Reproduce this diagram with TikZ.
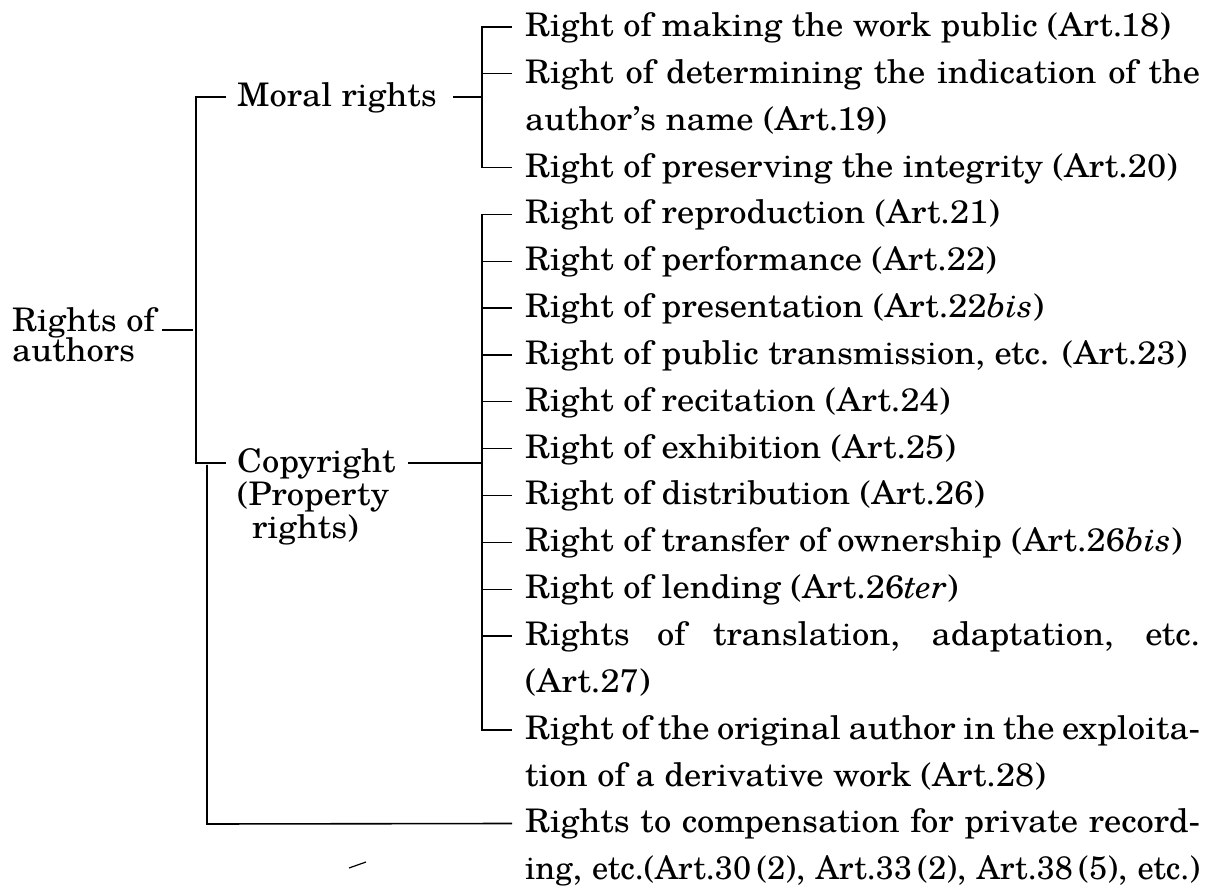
\documentclass[tikz,border=0pt]{standalone}
\usepackage{fontspec}
\setmainfont{TeX Gyre Schola}[FakeStretch=1.06]
\newfontfamily\narrowfont{TeX Gyre Schola}[FakeStretch=1.0]
\begin{document}
\begin{tikzpicture}[x=1pt,y=-1pt,
  lbl/.style={anchor=base west, inner sep=0pt, font=\fontsize{32.5}{32.5}\selectfont},
  ln/.style={line width=1.6pt},
  thin/.style={line width=1.2pt}]
\useasboundingbox (0,0) rectangle (1211,890);
\newcommand\jl[1]{\makebox[675pt][s]{#1}}
% left labels
\node[lbl] (rights) at (12,332) {Rights of};
\node[lbl] (authors) at (12,362) {authors};
\node[lbl] (moral) at (237,106.5) {Moral rights};
\node[lbl] (copy1) at (237,473) {Copyright};
\node[lbl] (copy2) at (237,506) {(Property};
\node[lbl] (copy3) at (252,539) {rights)};
% item texts
\node[lbl] (i1) at (525,36.5) {Right of making the work public (Art.18)};
\node[lbl] (i2) at (525,83.35) {\jl{Right of determining the indication of the}};
\node[lbl] (i3) at (525,130.2) {author’s name (Art.19)};
\node[lbl] (i4) at (525,177.05) {Right of preserving the integrity (Art.20)};
\node[lbl] (i5) at (525,223.9) {Right of reproduction (Art.21)};
\node[lbl] (i6) at (525,270.75) {Right of performance (Art.22)};
\node[lbl] (i7) at (525,317.6) {Right of presentation (Art.22\textit{bis})};
\node[lbl] (i8) at (525,364.45) {Right of public transmission, etc. (Art.23)};
\node[lbl] (i9) at (525,411.3) {Right of recitation (Art.24)};
\node[lbl] (i10) at (525,458.15) {Right of exhibition (Art.25)};
\node[lbl] (i11) at (525,505) {Right of distribution (Art.26)};
\node[lbl] (i12) at (525,551.85) {Right of transfer of ownership (Art.26\textit{bis})};
\node[lbl] (i13) at (525,598.7) {Right of lending (Art.26\textit{ter})};
\node[lbl] (i14) at (525,645.55) {\jl{Rights of translation, adaptation, etc.}};
\node[lbl] (i15) at (525,692.4) {(Art.27)};
\node[lbl] (i16) at (525,739.25) {\jl{Right of the original author in the exploita-}};
\node[lbl] (i17) at (525,786.1) {tion of a derivative work (Art.28)};
\node[lbl] (i18) at (525,832.95) {\jl{Rights to compensation for private record-}};
\node[lbl] (i19) at (525,879.8) {\narrowfont\jl{ing, etc.(Art.30\,(2), Art.33\,(2), Art.38\,(5), etc.)}};
% coordinates of the bracket joints
\coordinate (us1) at (162,330); \coordinate (us2) at (193,330);
\coordinate (s1top) at (196,97); \coordinate (s1bot) at (196,463);
\coordinate (mt) at (226,97); \coordinate (ct) at (226,463);
\coordinate (mr1) at (453,97); \coordinate (mr2) at (482,97);
\coordinate (cr1) at (408,463); \coordinate (cr2) at (482,463);
\coordinate (s2top) at (207,465); \coordinate (s2bot) at (207,824);
\coordinate (t18) at (512,823.5);
\draw[thin] (us1) -- (us2);
\draw[ln] (mt) -- (s1top) -- (s1bot) -- (ct);
\draw[thin] (mr1) -- (mr2);
\draw[thin] (cr1) -- (cr2);
\draw[ln] (s2top) -- (s2bot) -- (t18);
% moral bracket
\draw[ln] (512,27) -- (482,27) -- (482,167.5) -- (512,167.5);
\draw[thin] (482,73.85) -- (512,73.85);
% copyright bracket
\draw[ln] (512,214.4) -- (482,214.4) -- (482,729.75) -- (512,729.75);
\foreach \yy in {261.25,308.1,354.95,401.8,448.65,495.5,542.35,589.2,636.05}
  \draw[thin] (482,\yy) -- (512,\yy);
% scan mark
\draw[line width=1.2pt] (349,868) -- (366,862);
\end{tikzpicture}
\end{document}
